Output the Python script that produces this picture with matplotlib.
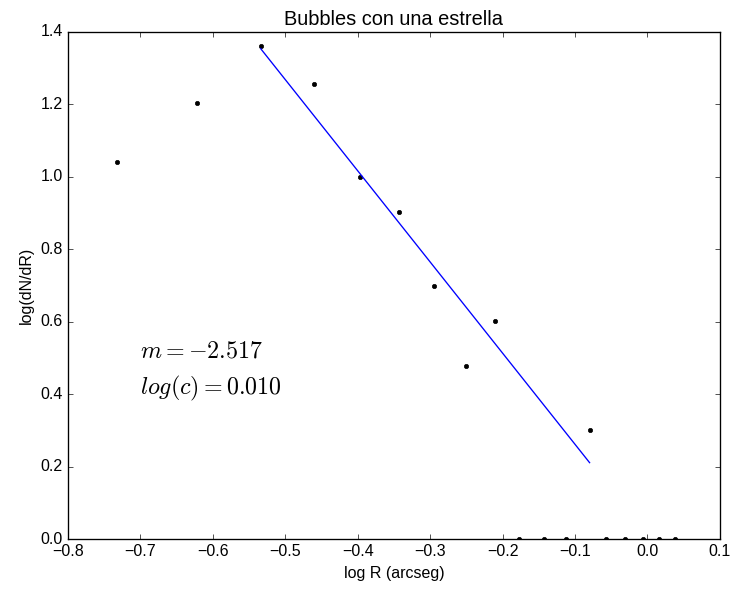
import numpy as np
import matplotlib
matplotlib.use("Agg")
import matplotlib.pyplot as plt
from matplotlib.ticker import MultipleLocator

plt.style.use("classic")
plt.rcParams["font.family"] = ["Liberation Sans", "DejaVu Sans"]

# log R (arcseg) and log(dN/dR)
logR = [-0.732, -0.6215, -0.534, -0.4605, -0.397, -0.343, -0.294, -0.251,
        -0.2108, -0.177, -0.1427, -0.113, -0.0798, -0.0566, -0.0305,
        -0.0067, 0.0167, 0.0382]
logN = [1.041, 1.204, 1.362, 1.255, 1.0, 0.903, 0.699, 0.477,
        0.602, 0.0, 0.0, 0.0, 0.301, 0.0, 0.0,
        0.0, 0.0, 0.0]

# fit parameters (as printed on the chart)
m = -2.517
logc = 0.010
fit_idx = [2, 3, 4, 5, 6, 7, 8, 12]   # points used for the fit

fig = plt.figure(figsize=(736 / 96, 590 / 96), dpi=96, facecolor="white")
ax = fig.add_axes([0.0924, 0.0864, 0.8856, 0.8594])

ax.plot(logR, logN, "k.", markersize=6.5)
xf = np.array([logR[i] for i in fit_idx])
xl = np.linspace(xf.min(), xf.max(), 2)
ax.plot(xl, m * xl + logc, "b-")

ax.text(-0.7, 0.5, r"$m=%.3f$" % m, fontsize=18)
ax.text(-0.7, 0.4, r"$log(c)=%.3f$" % logc, fontsize=18)

ax.set_xlim(-0.8, 0.1)
ax.set_ylim(0, 1.4)
ax.xaxis.set_major_locator(MultipleLocator(0.1))
ax.yaxis.set_major_locator(MultipleLocator(0.2))
ax.set_xlabel("log R (arcseg)")
ax.set_ylabel("log(dN/dR)")
ax.set_title("Bubbles con una estrella", fontsize=15)

fig.savefig("out.png", dpi=96, facecolor="white")
